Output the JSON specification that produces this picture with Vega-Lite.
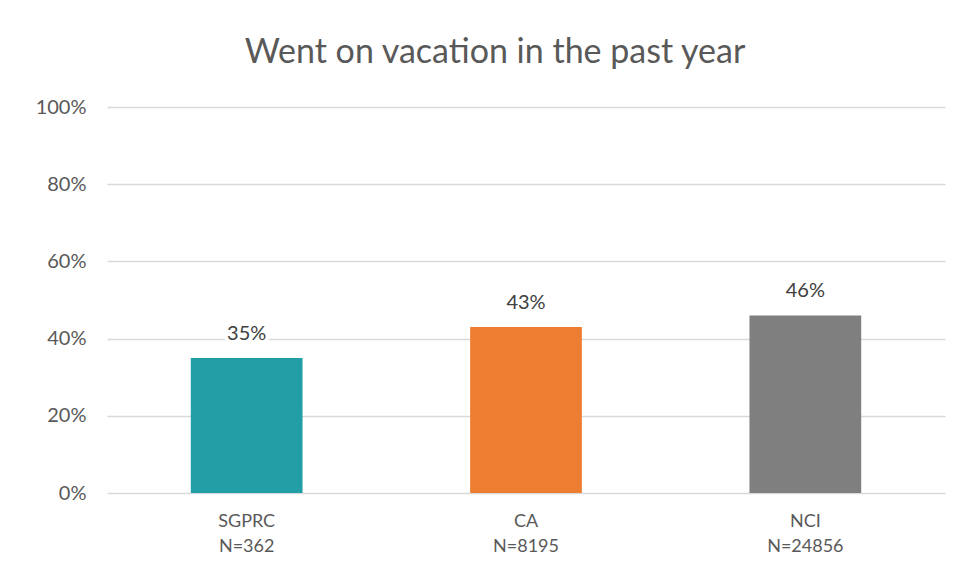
{
  "$schema": "https://vega.github.io/schema/vega-lite/v6.json",
  "width": 838,
  "height": 386,
  "autosize": {"type": "none"},
  "padding": {"left": 107, "top": 107, "right": 14, "bottom": 90},
  "background": "white",
  "config": {
    "view": {"stroke": null},
    "font": "Lato"
  },
  "title": {
    "text": "Went on vacation in the past year",
    "fontSize": 34,
    "font": "Lato",
    "fontWeight": "normal",
    "color": "#595959",
    "anchor": "middle",
    "dx": -31,
    "offset": 27
  },
  "data": {
    "values": [
      {"group": "SGPRC|N=362", "value": 0.35, "label": "35%"},
      {"group": "CA|N=8195", "value": 0.43, "label": "43%"},
      {"group": "NCI|N=24856", "value": 0.46, "label": "46%"}
    ]
  },
  "encoding": {
    "x": {
      "field": "group",
      "type": "nominal",
      "sort": null,
      "scale": {"paddingInner": 0.6, "paddingOuter": 0.3},
      "axis": {
        "title": null,
        "labelAngle": 0,
        "domain": false,
        "ticks": false,
        "labelExpr": "split(datum.label, '|')",
        "labelFontSize": 18,
        "labelColor": "#595959",
        "labelLineHeight": 25,
        "labelPadding": 19
      }
    },
    "y": {
      "field": "value",
      "type": "quantitative",
      "scale": {"domain": [0, 1]},
      "axis": {
        "title": null,
        "format": ".0%",
        "values": [0, 0.2, 0.4, 0.6, 0.8, 1.0],
        "domain": false,
        "ticks": false,
        "labelFontSize": 20,
        "labelColor": "#595959",
        "labelPadding": 21,
        "gridColor": "#D9D9D9",
        "gridWidth": 1.3
      }
    }
  },
  "layer": [
    {
      "mark": {"type": "bar"},
      "encoding": {
        "color": {
          "field": "group",
          "type": "nominal",
          "sort": null,
          "scale": {"range": ["#219EA6", "#ED7D31", "#7F7F7F"]},
          "legend": null
        }
      }
    },
    {
      "mark": {"type": "text", "dy": -24, "fontSize": 20, "stroke": "white", "strokeWidth": 8, "fill": "white"},
      "encoding": {"text": {"field": "label"}}
    },
    {
      "mark": {"type": "text", "dy": -24, "fontSize": 20, "fill": "#404040"},
      "encoding": {"text": {"field": "label"}}
    }
  ]
}
